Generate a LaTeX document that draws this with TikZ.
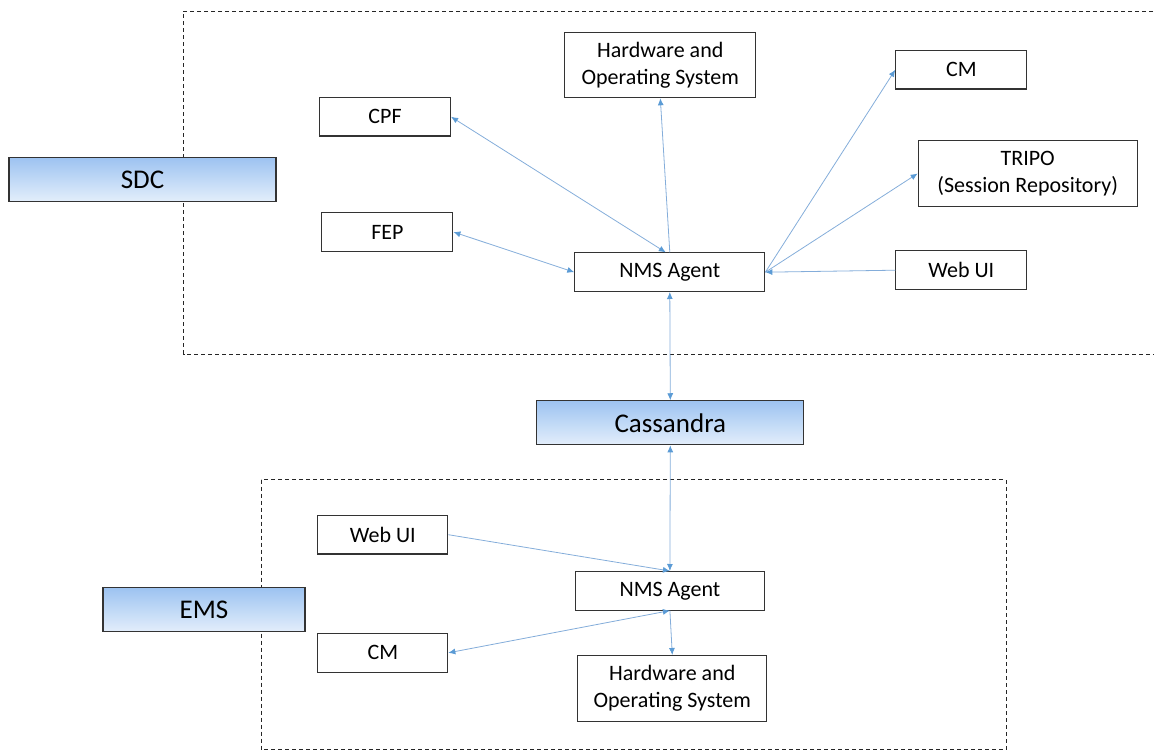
\documentclass[tikz,border=0pt]{standalone}
\usepackage{xcolor}
\usepackage{tikz}
\usepackage{fontspec}
\setmainfont{Carlito}
\usetikzlibrary{arrows.meta}

\definecolor{linkblue}{HTML}{84ADDA}
\definecolor{tipblue}{HTML}{5B9BD5}
\definecolor{shadetop}{HTML}{9DC3F1}
\definecolor{shadebot}{HTML}{E3EEFB}

\tikzset{
    box/.style={rectangle, draw=black!80, line width=1.1pt, fill=white, inner sep=0pt,
        minimum height=38.5pt, align=center, font=\fontsize{22}{27}\selectfont},
    bigbox/.style={box, top color=shadetop, bottom color=shadebot, minimum height=44pt,
        font=\fontsize{27}{32}\selectfont},
    link/.style={draw=linkblue, line width=0.8pt},
    region/.style={draw=black!85, line width=0.9pt, dash pattern=on 4pt off 3pt},
    >={Latex[length=7pt,width=6pt,color=tipblue]}
}

\begin{document}
\begin{tikzpicture}[x=1pt, y=1pt]
                        \useasboundingbox (0, 0) rectangle (1154, -751);

                        \draw [region] (1160, -11) -- (183.5, -11) -- (183.5, -354) -- (1160, -354);
                        \draw [region] (261, -479.5) rectangle (1006, -749.5);

                        \foreach \k/\i/\j/\w/\t in {sdc/142.5/-179.5/267/SDC, cass/670.3/-422.8/267/Cassandra, ems/204/-609.8/202/EMS} {
                            \node (\k) at (\i, \j) [bigbox, minimum width=\w pt] {\t};
                        }

                        \foreach \k/\i/\j/\w/\t in {cpf/385/-116.8/131/CPF, fep/387.4/-232/131/FEP, nms1/669.8/-272.2/190/NMS Agent, cm1/961.3/-69.8/131/CM, web1/961.3/-270.2/131/Web UI, web2/382.8/-534.7/130/Web UI, nms2/669.9/-590.8/189/NMS Agent, cm2/382.8/-652.8/130/CM} {
                            \node (\k) at (\i, \j) [box, minimum width=\w pt] {\t};
                        }

                        \foreach \k/\i/\j/\w/\t in {hw1/660.3/-65/191/{Hardware and\\Operating System}, tripo/1027.7/-173.5/219/{TRIPO\\(Session Repository)}, hw2/672.3/-688.3/189/{Hardware and\\Operating System}} {
                            \node (\k) at (\i, \j) [box, minimum width=\w pt, minimum height=65.5pt] {\t};
                        }

                        \draw [link, <->] (cpf.east) -- ([xshift=-4pt]nms1.north);
                        \draw [link, ->] (nms1.north) -- (hw1.south);
                        \draw [link, <->] (fep.east) -- (nms1.west);
                        \draw [link, ->] (nms1.east) -- (cm1.west);
                        \draw [link, ->] (nms1.east) -- (tripo.west);
                        \draw [link, ->] (web1.west) -- (nms1.east);
                        \draw [link, <->] (nms1.south) -- (cass.north);
                        \draw [link, <->] (cass.south) -- (nms2.north);
                        \draw [link, ->] (web2.east) -- (nms2.north);
                        \draw [link, <->] (nms2.south) -- (cm2.east);
                        \draw [link, ->] (nms2.south) -- (hw2.north);
                    \end{tikzpicture}
\end{document}
